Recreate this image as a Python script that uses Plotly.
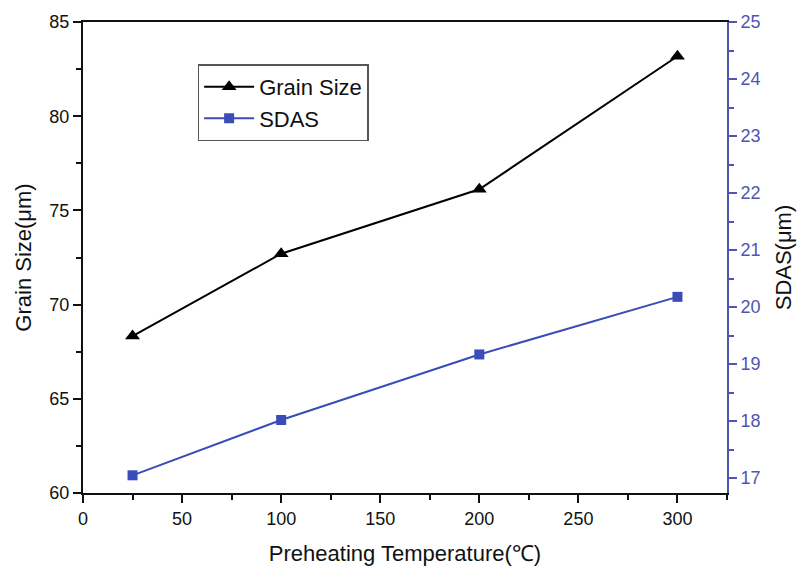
import plotly.graph_objects as go

temps = [25, 100, 200, 300]
grain_size = [68.33, 72.7, 76.12, 83.18]
sdas = [17.05, 18.02, 19.17, 20.18]

x_ticks = [0, 50, 100, 150, 200, 250, 300]
left_ticks = [60, 65, 70, 75, 80, 85]
right_ticks = [17, 18, 19, 20, 21, 22, 23, 24, 25]

blue = "#3a4cb8"
axis_blue = "#4f55b0"
font = "Liberation Sans, Arial, sans-serif"

fig = go.Figure()
fig.add_trace(go.Scatter(
    x=temps, y=grain_size, name="Grain Size", mode="lines+markers",
    line=dict(color="black", width=2),
    marker=dict(symbol="triangle-up", size=13, color="black"),
))
fig.add_trace(go.Scatter(
    x=temps, y=sdas, name="SDAS", mode="lines+markers", yaxis="y2",
    line=dict(color=blue, width=2),
    marker=dict(symbol="square", size=10, color=blue),
))

fig.update_layout(
    width=804, height=574,
    margin=dict(l=83, r=76, t=18, b=76),
    plot_bgcolor="white", paper_bgcolor="white",
    font=dict(family=font, size=18, color="#111"),
    showlegend=True,
    legend=dict(x=0.178, y=0.91, xanchor="left", yanchor="top",
                bordercolor="#555", borderwidth=1.5, bgcolor="white",
                font=dict(size=22, color="#111"), tracegroupgap=0,
                itemwidth=50),
    xaxis=dict(
        range=[0, 325], tickvals=x_ticks, ticks="outside", ticklen=8, tickwidth=2,
        tickcolor="#111",
        showline=True, linecolor="#111", linewidth=2, mirror=True,
        showgrid=False, zeroline=False,
        minor=dict(dtick=25, tick0=0, ticks="outside", ticklen=5, tickwidth=2, tickcolor="#111"),
        title=dict(text="Preheating Temperature(℃)", font=dict(size=22), standoff=18),
        tickfont=dict(size=18),
    ),
    yaxis=dict(
        range=[60, 85], tickvals=left_ticks, ticks="outside", ticklen=8, tickwidth=2,
        tickcolor="#111",
        showline=True, linecolor="#111", linewidth=2,
        showgrid=False, zeroline=False,
        minor=dict(dtick=2.5, tick0=60, ticks="outside", ticklen=5, tickwidth=2, tickcolor="#111"),
        title=dict(text="Grain Size(μm)", font=dict(size=22), standoff=12),
        tickfont=dict(size=18),
    ),
    yaxis2=dict(
        range=[16.74, 25], tickvals=right_ticks, overlaying="y", side="right",
        ticks="outside", ticklen=8, tickwidth=2, tickcolor=axis_blue,
        showline=True, linecolor=axis_blue, linewidth=2,
        showgrid=False, zeroline=False,
        minor=dict(dtick=0.5, tick0=17, ticks="outside", ticklen=5, tickwidth=2, tickcolor=axis_blue),
        title=dict(text="SDAS(μm)", font=dict(size=22, color="#111"), standoff=16),
        tickfont=dict(size=18, color=axis_blue),
    ),
)

fig.write_html("out.html")
